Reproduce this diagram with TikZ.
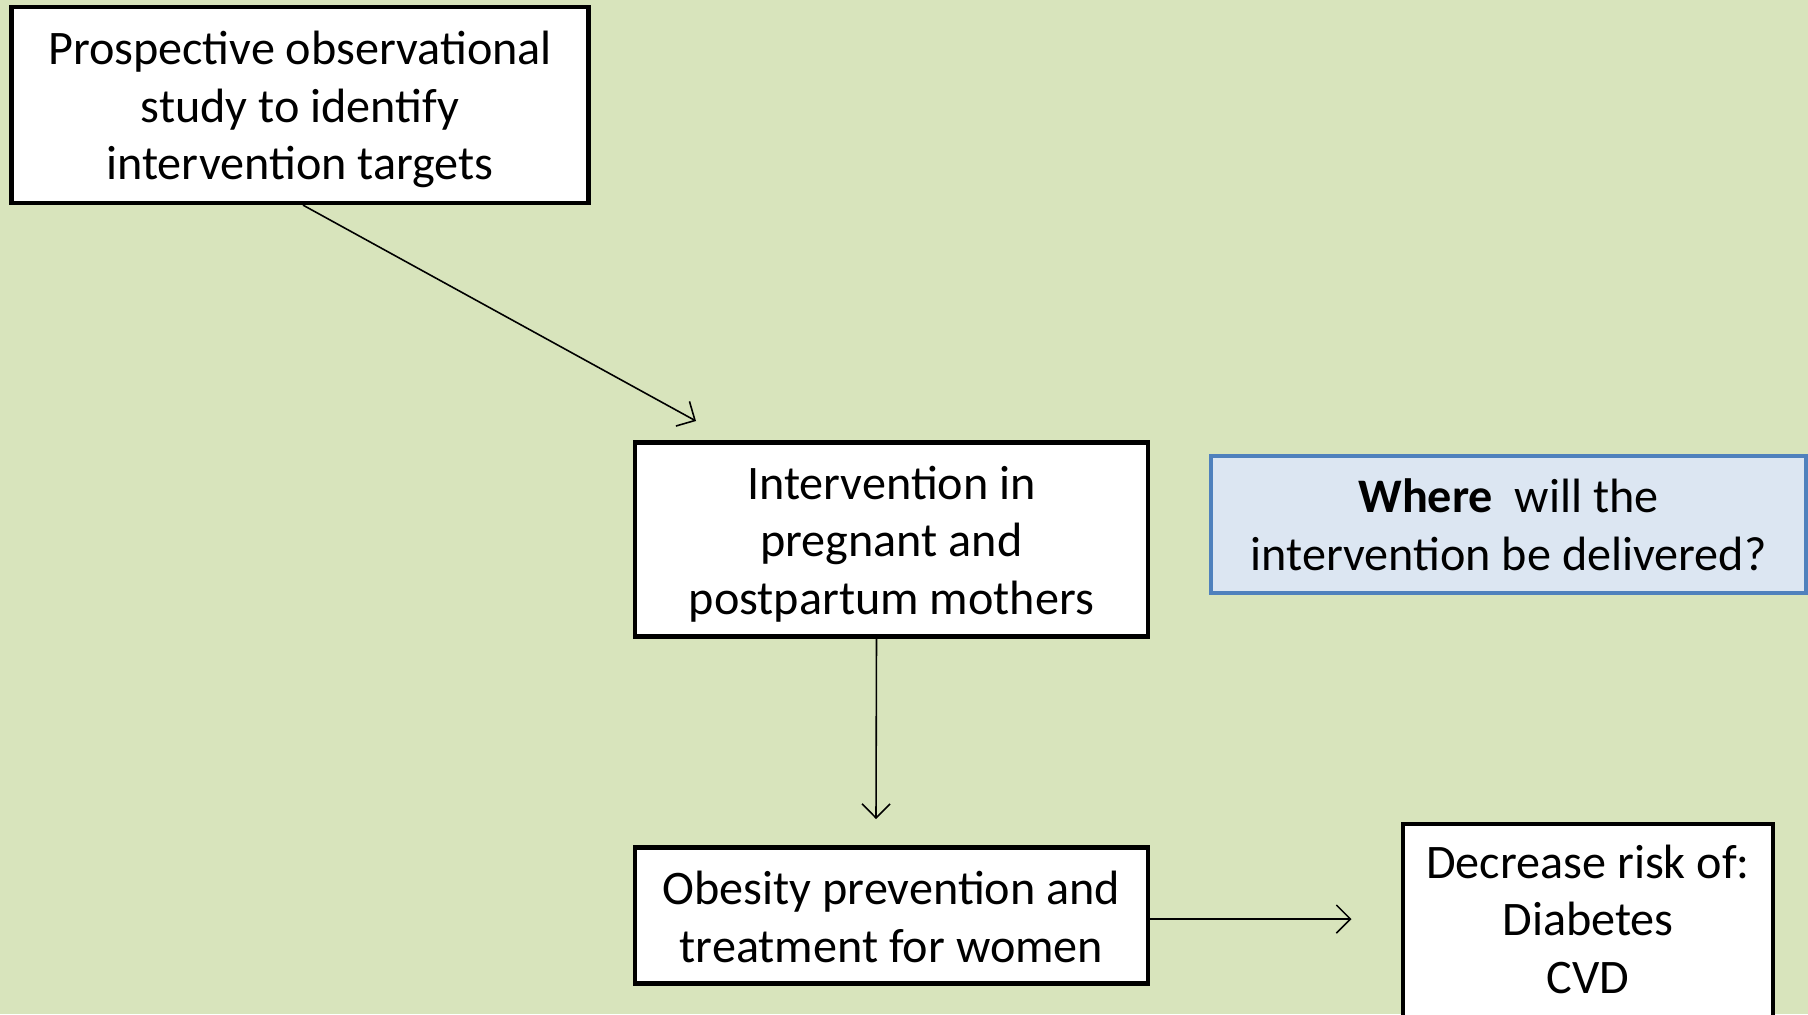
\documentclass[tikz,border=0pt]{standalone}
\usepackage{fontspec}
\setmainfont{Carlito}
\usetikzlibrary{arrows.meta}
\definecolor{bgolive}{HTML}{D8E4BC}
\definecolor{qfill}{HTML}{DCE6F2}
\definecolor{qline}{HTML}{4F81BD}
\tikzset{
  boxfont/.style={font=\fontsize{13.7}{16.4}\selectfont},
  stepbox/.style={draw=black, line width=1.2pt, fill=white, inner sep=0pt},
  qbox/.style={draw=qline, line width=1pt, fill=qfill, inner sep=0pt},
  boxtext/.style={align=center, inner sep=0pt, boxfont},
  flow/.style={line width=0.45pt, -{Straight Barb[length=4pt,width=8pt]}}
}
\begin{document}
\begin{tikzpicture}[x=0.01cm,y=-0.01cm]
  \fill[bgolive] (0,0) rectangle (1808,1014);
  \useasboundingbox (0,0) rectangle (1808,1014);
  \begin{scope}
    \clip (0,0) rectangle (1808,1014);
    % boxes
    \node[stepbox, minimum width=577*0.01cm, minimum height=196*0.01cm] (study) at (300,105) {};
    \node[stepbox, minimum width=513*0.01cm, minimum height=194*0.01cm] (interv) at (891.5,539.5) {};
    \node[qbox, minimum width=595*0.01cm, minimum height=137*0.01cm] (where) at (1508.5,524.5) {};
    \node[stepbox, minimum width=513*0.01cm, minimum height=136*0.01cm] (obes) at (891.5,915.5) {};
    \node[stepbox, minimum width=370*0.01cm, minimum height=260*0.01cm, anchor=north] (risk)
      at (1588,822) {};
    % their texts
    \node[boxtext] (studytext) at ([yshift=-0.046cm]study.center)
      {Prospective observational\\study to identify\\intervention targets};
    \node[boxtext] (intervtext) at ([yshift=-0.046cm]interv.center)
      {Intervention in\\pregnant and\\postpartum mothers};
    \node[boxtext] (wheretext) at (where.center)
      {\textbf{Where}\ \ will the\\intervention be delivered?};
    \node[boxtext] (obestext) at ([yshift=-0.012cm]obes.center)
      {Obesity prevention and\\treatment for women};
    \node[boxtext, anchor=north] (risktext) at ([yshift=-0.22cm]risk.north)
      {Decrease risk of:\\Diabetes\\CVD};
  \end{scope}
  \coordinate (t1) at (696,421);
  \coordinate (t2) at (876,819);
  \coordinate (t3) at (1351.5,919);
  \draw[flow] (study.south) ++(3,0) -- (t1);
  \draw[flow] (interv.south) ++(-15,0) -- (t2);
  \draw[flow] (obes.east) ++(0,3.5) -- (t3);
\end{tikzpicture}
\end{document}
